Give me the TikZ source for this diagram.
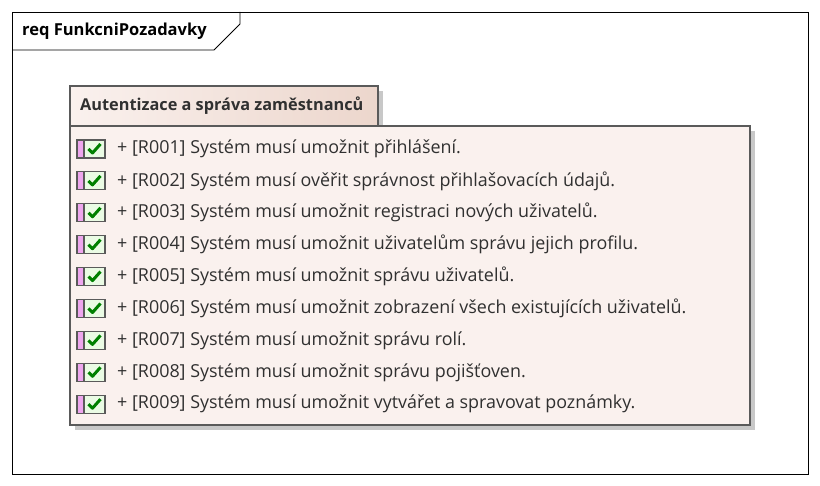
\documentclass[tikz,border=0pt]{standalone}
\usepackage{fontspec}
\setmainfont{Open Sans}
\usetikzlibrary{positioning}

\definecolor{pkgfill}{HTML}{FAF1EE}
\definecolor{pkgdark}{HTML}{ECD6CC}
\definecolor{pkgline}{HTML}{5A5A5A}
\definecolor{shadowgray}{HTML}{C8C8C8}
\definecolor{txtgray}{HTML}{303030}
\definecolor{pinkbar}{HTML}{EEA6EE}
\definecolor{greenbox}{HTML}{EAFBE4}
\definecolor{checkgreen}{HTML}{008000}

\begin{document}
\begin{tikzpicture}[
    x=1pt, y=-1pt,
    frame/.style={draw=black, line width=0.8pt},
    pkg/.style={draw=pkgline, line width=1.6pt},
    shade/.style={fill=shadowgray, draw=none},
    req/.style={font=\fontsize{17.9}{20}\selectfont, text=txtgray, anchor=west, inner sep=0pt},
    icon/.style={draw=pkgline, line width=1.2pt},
]
\useasboundingbox (0,0) rectangle (820,486);

% ---------------------------------------------------------
% Diagram frame with name tab
% ---------------------------------------------------------
\draw[frame] (12,12) rectangle (808,474);
\draw[frame] (12,50) -- (214,50) -- (240,24) -- (240,12);
\node[font=\bfseries\fontsize{16.5}{18}\selectfont, anchor=west, inner sep=0pt] (title) at (22,31)
  {req FunkcniPozadavky};

% ---------------------------------------------------------
% Package: tab and body with shadow
% ---------------------------------------------------------
\fill[shade] (378,91) rectangle (383,126);
\fill[shade] (750,131) rectangle (755,430);
\fill[shade] (75,425) rectangle (755,430);

\shade[left color=pkgfill, right color=pkgdark] (70,86) rectangle (378,126);
\draw[pkg] (70,126) -- (70,86) -- (378,86) -- (378,126);
\node[font=\bfseries\fontsize{16.3}{18}\selectfont, text=txtgray, anchor=west, inner sep=0pt]
  (pkgname) at (80,106) {Autentizace a správa zaměstnanců};

\filldraw[pkg, fill=pkgfill] (70,126) rectangle (750,425);

% ---------------------------------------------------------
% Requirements
% ---------------------------------------------------------
\foreach \i/\txt in {
    1/{Systém musí umožnit přihlášení.},
    2/{Systém musí ověřit správnost přihlašovacích údajů.},
    3/{Systém musí umožnit registraci nových uživatelů.},
    4/{Systém musí umožnit uživatelům správu jejich profilu.},
    5/{Systém musí umožnit správu uživatelů.},
    6/{Systém musí umožnit zobrazení všech existujících uživatelů.},
    7/{Systém musí umožnit správu rolí.},
    8/{Systém musí umožnit správu pojišťoven.},
    9/{Systém musí umožnit vytvářet a spravovat poznámky.}}
{
  \pgfmathsetmacro{\yy}{149+31.9*(\i-1)}
  \fill[pinkbar] (77,\yy-9) rectangle (84,\yy+9);
  \fill[greenbox] (84,\yy-9) rectangle (105,\yy+9);
  \draw[icon] (77,\yy-9) rectangle (105,\yy+9);
  \draw[icon] (84,\yy-9) -- (84,\yy+9);
  \draw[checkgreen, line width=3pt, line join=round]
    (88.5,\yy) -- (92.5,\yy+4) -- (100.5,\yy-5);
  \node[req] (r\i) at (117,\yy) {+ [R00\i] \txt};
}

\end{tikzpicture}
\end{document}
